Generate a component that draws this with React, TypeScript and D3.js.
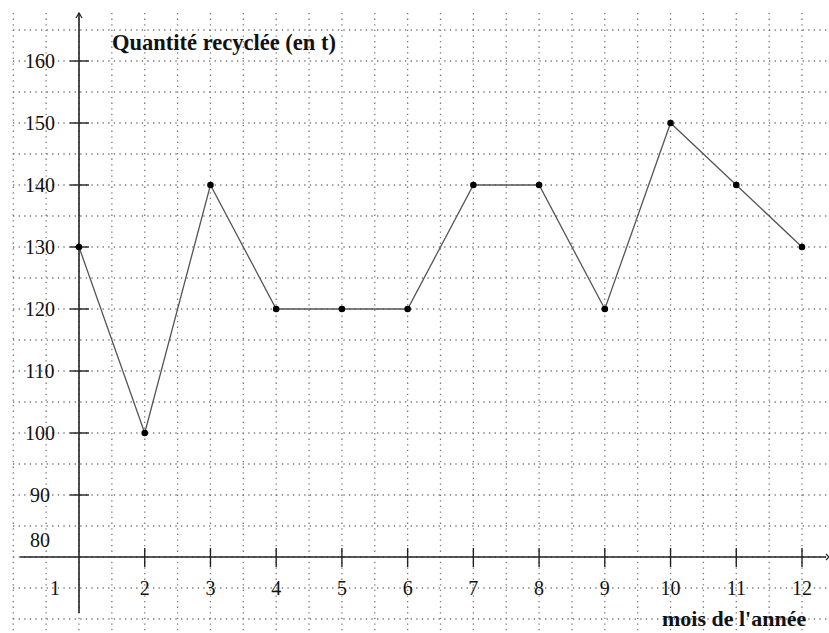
import React from "react";
import * as d3 from "d3";

const months = [1, 2, 3, 4, 5, 6, 7, 8, 9, 10, 11, 12];
const quantities = [130, 100, 140, 120, 120, 120, 140, 140, 120, 150, 140, 130];
const yTicks = [90, 100, 110, 120, 130, 140, 150, 160];
const title = "Quantité recyclée (en t)";
const xTitle = "mois de l'année";

const W = 829;
const H = 633;

export default function App() {
  const x = d3.scaleLinear().domain([1, 12]).range([79, 802]);
  const y = d3.scaleLinear().domain([80, 160]).range([557, 61]);

  const vGrid = d3.range(0, 12.6, 0.5);
  const hGrid = d3.range(70, 171, 5);

  const line = d3
    .line<number>()
    .x((_, i) => x(months[i]))
    .y((d) => y(d));

  const font = "'Liberation Serif', 'DejaVu Serif', serif";
  const gridColor = "#777";

  return (
    <svg
      width={W}
      height={H}
      style={{ position: "absolute", left: 0, top: 0, background: "#fff" }}
      fontFamily={font}
    >
      <rect width={W} height={H} fill="#fff" />
      {/* grid */}
      <g stroke={gridColor} strokeWidth={1.3} strokeDasharray="1.3 4.3">
        {vGrid.map((m) => (
          <line key={"v" + m} x1={x(m)} x2={x(m)} y1={13} y2={H} />
        ))}
        {hGrid.map((v) => (
          <line key={"h" + v} x1={13} x2={W} y1={y(v)} y2={y(v)} />
        ))}
      </g>
      {/* axes */}
      <line x1={20} x2={826} y1={y(80)} y2={y(80)} stroke="#222" strokeWidth={1.6} />
      <path d={`M826,${y(80) - 3} L829,${y(80)} L826,${y(80) + 3}`} fill="none" stroke="#222" strokeWidth={1.2} />
      <line x1={x(1)} x2={x(1)} y1={14} y2={613} stroke="#222" strokeWidth={1.6} />
      <path d={`M${x(1) - 3},18 L${x(1)},13 L${x(1) + 3},18`} fill="none" stroke="#222" strokeWidth={1.2} />
      {/* y ticks */}
      {yTicks.map((v) => (
        <g key={"yt" + v}>
          <line x1={x(1) - 9} x2={x(1) + 10} y1={y(v)} y2={y(v)} stroke="#222" strokeWidth={1.4} />
          <text x={40} y={y(v)} dy="0.35em" textAnchor="middle" fontSize={20} fill="#111">
            {v}
          </text>
        </g>
      ))}
      <text x={40} y={y(80) - 17} dy="0.35em" textAnchor="middle" fontSize={20} fill="#111">
        80
      </text>
      {/* x ticks */}
      {months.slice(1).map((m) => (
        <line key={"xt" + m} x1={x(m)} x2={x(m)} y1={y(80) - 9} y2={y(80) + 10} stroke="#222" strokeWidth={1.4} />
      ))}
      {months.map((m) => (
        <text
          key={"xl" + m}
          x={m === 1 ? x(1) - 24 : x(m)}
          y={y(75)}
          dy="0.35em"
          textAnchor="middle"
          fontSize={20}
          fill="#111"
        >
          {m}
        </text>
      ))}
      {/* data line */}
      <path d={line(quantities) || ""} fill="none" stroke="#555" strokeWidth={1.3} />
      {quantities.map((q, i) => (
        <circle key={"p" + i} cx={x(months[i])} cy={y(q)} r={3.3} fill="#000" />
      ))}
      {/* titles */}
      <text x={112} y={50} fontSize={22.5} fontWeight="bold" fill="#111">
        {title}
      </text>
      <text x={662} y={626} fontSize={22} fontWeight="bold" fill="#111">
        {xTitle}
      </text>
    </svg>
  );
}
